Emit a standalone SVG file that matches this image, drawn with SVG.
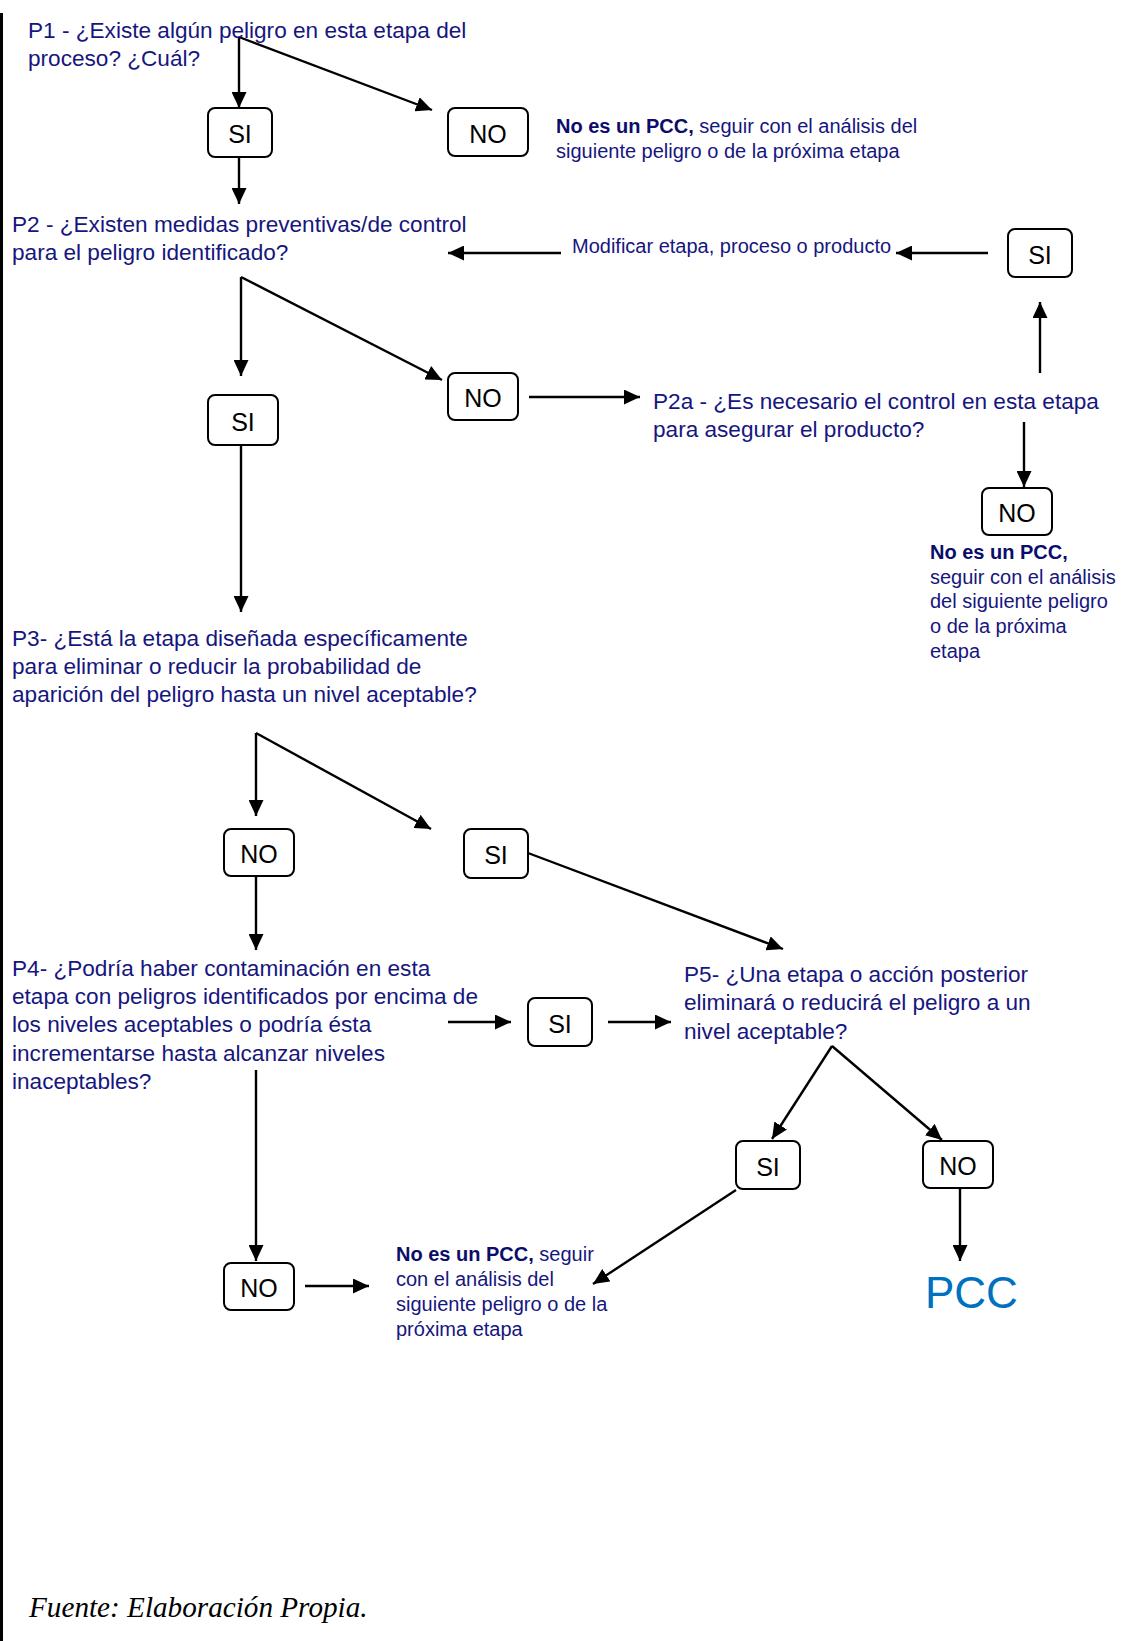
<svg xmlns="http://www.w3.org/2000/svg" width="1123" height="1641" viewBox="0 0 1123 1641">
<style>
.q{font-family:"Liberation Sans",Arial,sans-serif;font-size:22.6px;fill:#16167e}
.n{font-family:"Liberation Sans",Arial,sans-serif;font-size:20px;fill:#16167e}
.b{font-weight:bold;fill:#0c0c6a}
.box{fill:#fff;stroke:#000;stroke-width:2}
.bt{font-family:"Liberation Sans",Arial,sans-serif;font-size:25px;fill:#000;text-anchor:middle}
.c{stroke:#000;stroke-width:2.4;fill:none;marker-end:url(#ah)}
</style>
<defs>
<marker id="ah" viewBox="0 0 16 15" refX="16" refY="7.5" markerWidth="16" markerHeight="15" markerUnits="userSpaceOnUse" orient="auto">
<path d="M0,0 L16,7.5 L0,15 z" fill="#000"/>
</marker>
</defs>
<rect width="1123" height="1641" fill="#fff"/>
<rect x="0" y="13" width="3" height="1628" fill="#000"/>

<g id="connectors">
<path class="c" d="M239,37 L239,108"/>
<path class="c" d="M239,37 L432,110"/>
<path class="c" d="M239,157 L239,204"/>
<path class="c" d="M561,253 L448,253"/>
<path class="c" d="M988,253 L896,253"/>
<path class="c" d="M1040,373 L1040,302"/>
<path class="c" d="M1024,422 L1024,487"/>
<path class="c" d="M241,277 L241,376"/>
<path class="c" d="M241,277 L442,380"/>
<path class="c" d="M529,397 L640,397"/>
<path class="c" d="M241,445 L241,612"/>
<path class="c" d="M256,733 L256,816"/>
<path class="c" d="M256,733 L431,829"/>
<path class="c" d="M528,853 L783,949"/>
<path class="c" d="M256,877 L256,950"/>
<path class="c" d="M448,1022 L511,1022"/>
<path class="c" d="M608,1022 L671,1022"/>
<path class="c" d="M832,1046 L772,1139"/>
<path class="c" d="M832,1046 L942,1140"/>
<path class="c" d="M960,1189 L960,1261"/>
<path class="c" d="M736,1190 L593,1284"/>
<path class="c" d="M256,1070 L256,1261"/>
<path class="c" d="M305,1286 L369,1286"/>
</g>

<g id="p1">
<text class="q" x="28" y="38">P1 - ¿Existe algún peligro en esta etapa del</text>
<text class="q" x="28" y="66">proceso? ¿Cuál?</text>
</g>
<g id="si1"><rect class="box" x="208" y="108" width="64" height="49" rx="7"/><text class="bt" x="240" y="143">SI</text></g>
<g id="no1"><rect class="box" x="448" y="108" width="80" height="48" rx="7"/><text class="bt" x="488" y="142.5">NO</text></g>
<g id="nopcc1">
<text class="n" x="556" y="133"><tspan class="b">No es un PCC,</tspan> seguir con el análisis del</text>
<text class="n" x="556" y="158">siguiente peligro o de la próxima etapa</text>
</g>

<g id="p2">
<text class="q" x="12" y="232">P2 - ¿Existen medidas preventivas/de control</text>
<text class="q" x="12" y="260">para el peligro identificado?</text>
</g>
<g id="modificar"><text class="n" x="572" y="253">Modificar etapa, proceso o producto</text></g>
<g id="si-r"><rect class="box" x="1008" y="229" width="64" height="48" rx="7"/><text class="bt" x="1040" y="263.5">SI</text></g>
<g id="si2"><rect class="box" x="208" y="395" width="70" height="50" rx="7"/><text class="bt" x="243" y="430.5">SI</text></g>
<g id="no2"><rect class="box" x="448" y="373" width="70" height="47" rx="7"/><text class="bt" x="483" y="407">NO</text></g>
<g id="p2a">
<text class="q" x="653" y="409">P2a - ¿Es necesario el control en esta etapa</text>
<text class="q" x="653" y="437">para asegurar el producto?</text>
</g>
<g id="no-r"><rect class="box" x="982" y="488" width="70" height="47" rx="7"/><text class="bt" x="1017" y="522">NO</text></g>
<g id="nopcc2">
<text class="n b" x="930" y="559">No es un PCC,</text>
<text class="n" x="930" y="584">seguir con el análisis</text>
<text class="n" x="930" y="608">del siguiente peligro</text>
<text class="n" x="930" y="633">o de la próxima</text>
<text class="n" x="930" y="658">etapa</text>
</g>

<g id="p3">
<text class="q" x="12" y="646">P3- ¿Está la etapa diseñada específicamente</text>
<text class="q" x="12" y="674">para eliminar o reducir la probabilidad de</text>
<text class="q" x="12" y="702">aparición del peligro hasta un nivel aceptable?</text>
</g>
<g id="no3"><rect class="box" x="224" y="829" width="70" height="47" rx="7"/><text class="bt" x="259" y="863">NO</text></g>
<g id="si3"><rect class="box" x="464" y="829" width="64" height="49" rx="7"/><text class="bt" x="496" y="864">SI</text></g>

<g id="p4">
<text class="q" x="12" y="976">P4- ¿Podría haber contaminación en esta</text>
<text class="q" x="12" y="1004">etapa con peligros identificados por encima de</text>
<text class="q" x="12" y="1032">los niveles aceptables o podría ésta</text>
<text class="q" x="12" y="1061">incrementarse hasta alcanzar niveles</text>
<text class="q" x="12" y="1089">inaceptables?</text>
</g>
<g id="si4"><rect class="box" x="528" y="998" width="64" height="48" rx="7"/><text class="bt" x="560" y="1032.5">SI</text></g>
<g id="p5">
<text class="q" x="684" y="982">P5- ¿Una etapa o acción posterior</text>
<text class="q" x="684" y="1010">eliminará o reducirá el peligro a un</text>
<text class="q" x="684" y="1039">nivel aceptable?</text>
</g>
<g id="si5"><rect class="box" x="736" y="1141" width="64" height="48" rx="7"/><text class="bt" x="768" y="1175.5">SI</text></g>
<g id="no5"><rect class="box" x="923" y="1141" width="70" height="47" rx="7"/><text class="bt" x="958" y="1175">NO</text></g>
<g id="pcc"><text x="925" y="1308" style="font-family:'Liberation Sans',Arial,sans-serif;font-size:44px;fill:#0070c0">PCC</text></g>
<g id="no6"><rect class="box" x="224" y="1263" width="70" height="47" rx="7"/><text class="bt" x="259" y="1297">NO</text></g>
<g id="nopcc3">
<text class="n" x="396" y="1261"><tspan class="b">No es un PCC,</tspan> seguir</text>
<text class="n" x="396" y="1286">con el análisis del</text>
<text class="n" x="396" y="1311">siguiente peligro o de la</text>
<text class="n" x="396" y="1336">próxima etapa</text>
</g>

<g id="fuente"><text x="29" y="1617" style="font-family:'Liberation Serif','Times New Roman',serif;font-style:italic;font-size:29.2px;fill:#000">Fuente: Elaboración Propia.</text></g>
</svg>
